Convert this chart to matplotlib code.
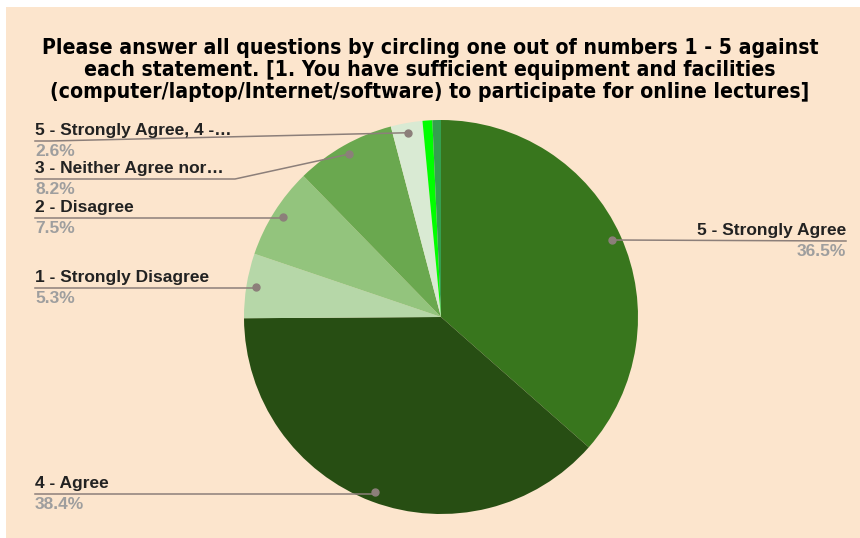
import numpy as np
import matplotlib.pyplot as plt
from matplotlib.patches import Rectangle

labels = ['5 - Strongly Agree', '4 - Agree', '1 - Strongly Disagree', '2 - Disagree',
          '3 - Neither Agree nor\u2026', '5 - Strongly Agree, 4 -\u2026', 'other a', 'other b']
values = [36.5, 38.4, 5.3, 7.5, 8.2, 2.6, 0.8, 0.7]
colors = ['#38761d', '#274e13', '#b6d7a8', '#93c47d', '#6aa84f', '#d9ead3', '#00ff00', '#34a04f']
shown = [True, True, True, True, True, True, False, False]

title = ('Please answer all questions by circling one out of numbers 1 - 5 against\n'
         'each statement. [1. You have sufficient equipment and facilities\n'
         '(computer/laptop/Internet/software) to participate for online lectures]')

W, H = 860, 538
cx, cy, R = 441, H - 317, 197

# label layout (y of underline in pixels from top, side, knee x)
lab_y = [241, 494, 288, 218, 179, 141, None, None]
lab_side = ['r', 'l', 'l', 'l', 'l', 'l', None, None]
lab_knee = [None, None, None, None, 235, 50, None, None]

fig = plt.figure(figsize=(8.6, 5.38), dpi=100)
fig.patch.set_facecolor('white')
ax = fig.add_axes([0, 0, 1, 1])
ax.add_patch(Rectangle((6, 0), W - 6, H - 7, facecolor='#fce5cd', edgecolor='none', zorder=0))

ax.pie(values, colors=colors, startangle=90, counterclock=False, center=(cx, cy), radius=R,
       wedgeprops=dict(linewidth=0.6, edgecolor='none'))

ax.set_xlim(0, W)
ax.set_ylim(0, H)
ax.set_aspect('auto')
ax.axis('off')

fig.text(0.5, 1 - 70 / H, title, ha='center', va='center', fontweight='bold',
         family='DejaVu Sans', fontstretch='condensed', fontsize=15.2,
         color='#000000', linespacing=1.1)

line_c = '#8c7f7a'
cum = np.cumsum([0] + values)
total = cum[-1]
for i, lab in enumerate(labels):
    if not shown[i]:
        continue
    mid = (cum[i] + cum[i + 1]) / 2 / total * 2 * np.pi
    dx = cx + 0.95 * R * np.sin(mid)
    dy = cy + 0.95 * R * np.cos(mid)
    ly = H - lab_y[i]
    if lab_side[i] == 'l':
        x0 = 35
        knee = lab_knee[i] if lab_knee[i] else dx
        ax.plot([x0, knee, dx], [ly, ly, dy], color=line_c, lw=1.1, zorder=3)
        ha = 'left'
    else:
        x0 = 846
        ax.plot([dx, x0], [dy, ly], color=line_c, lw=1.1, zorder=3)
        ha = 'right'
    ax.plot(dx, dy, 'o', color=line_c, ms=5, zorder=4)
    ax.text(x0, ly + 3, lab, ha=ha, va='bottom', fontsize=12.5, fontweight='bold',
            color='#222222', family='Liberation Sans')
    ax.text(x0, ly - 3, f'{values[i]}%', ha=ha, va='top', fontsize=12.5, fontweight='bold',
            color='#9e9e9e', family='Liberation Sans')

fig.savefig('out.png', dpi=100)
